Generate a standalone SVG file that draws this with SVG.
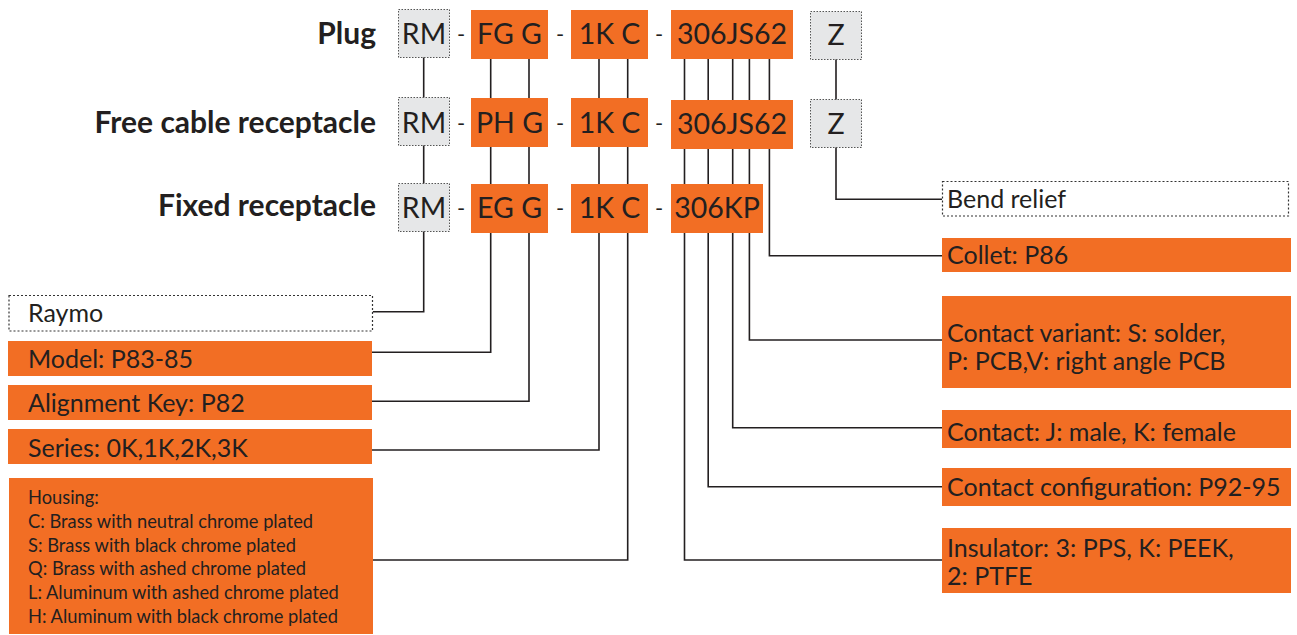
<svg xmlns="http://www.w3.org/2000/svg" width="1297" height="635" viewBox="0 0 1297 635">
<defs>
<style>
.bg{fill:#ffffff}
.code{fill:#f26e24}
.grey{fill:#e6e7e8;stroke:#555;stroke-width:1;stroke-dasharray:1.5 1.5}
.note{fill:#ffffff;stroke:#333;stroke-width:1.2;stroke-dasharray:2 2}
.t{font-family:Lato,"Open Sans",sans-serif;fill:#231f20}
.ct{font-size:28.5px;text-anchor:middle}
.rl{font-size:30px;font-weight:bold;text-anchor:end}
.lt{font-size:25px}
.sm{font-size:18.3px}
.dash{font-size:22px;text-anchor:middle}
.ln{fill:none;stroke:#231f20;stroke-width:1.6}
</style>
</defs>
<rect class="bg" x="0" y="0" width="1297" height="635"/>

<g id="connectors">
<path class="ln" d="M423.7,33 V311.7 H372.7"/>
<path class="ln" d="M490.7,35 V352.3 H371.7"/>
<path class="ln" d="M529,35 V401.3 H371.7"/>
<path class="ln" d="M599,35 V450 H371.7"/>
<path class="ln" d="M627.7,35 V560 H372.7"/>
<path class="ln" d="M684.5,35 V560 H942"/>
<path class="ln" d="M708.2,35 V486.7 H942"/>
<path class="ln" d="M732.7,35 V427.7 H942"/>
<path class="ln" d="M749.4,35 V340 H942"/>
<path class="ln" d="M769.4,35 V255.7 H942"/>
<path class="ln" d="M836,35 V199.3 H942"/>
</g>

<g id="row-labels">
<text class="t rl" x="376" y="44">Plug</text>
<text class="t rl" x="376" y="133">Free cable receptacle</text>
<text class="t rl" x="376" y="216">Fixed receptacle</text>
</g>

<g id="row-plug">
<g id="plug-rm"><rect class="grey" x="398.5" y="9.5" width="51" height="48"/><text class="t ct" x="424" y="44">RM</text></g>
<text class="t dash" x="461" y="42">-</text>
<g id="plug-fgg"><rect class="code" x="471" y="10" width="77" height="49"/><text class="t ct" x="509.5" y="44">FG G</text></g>
<text class="t dash" x="560" y="42">-</text>
<g id="plug-1kc"><rect class="code" x="571" y="10" width="77" height="49"/><text class="t ct" x="609.5" y="44">1K C</text></g>
<text class="t dash" x="659" y="42">-</text>
<g id="plug-306"><rect class="code" x="671" y="10" width="122" height="49"/><text class="t ct" x="732" y="44">306JS62</text></g>
<g id="plug-z"><rect class="grey" x="810.5" y="11.5" width="51" height="48"/><text class="t ct" x="836" y="45">Z</text></g>
</g>

<g id="row-free">
<g id="free-rm"><rect class="grey" x="398.5" y="97.5" width="51" height="48"/><text class="t ct" x="424" y="133">RM</text></g>
<text class="t dash" x="461" y="131">-</text>
<g id="free-phg"><rect class="code" x="471" y="98" width="77" height="49"/><text class="t ct" x="509.5" y="133">PH G</text></g>
<text class="t dash" x="560" y="131">-</text>
<g id="free-1kc"><rect class="code" x="571" y="98" width="77" height="49"/><text class="t ct" x="609.5" y="133">1K C</text></g>
<text class="t dash" x="659" y="131">-</text>
<g id="free-306"><rect class="code" x="671" y="100" width="122" height="49"/><text class="t ct" x="732" y="134">306JS62</text></g>
<g id="free-z"><rect class="grey" x="810.5" y="99.5" width="51" height="48"/><text class="t ct" x="836" y="134">Z</text></g>
</g>

<g id="row-fixed">
<g id="fixed-rm"><rect class="grey" x="398.5" y="183.5" width="51" height="48"/><text class="t ct" x="424" y="218">RM</text></g>
<text class="t dash" x="461" y="216">-</text>
<g id="fixed-egg"><rect class="code" x="471" y="184" width="77" height="49"/><text class="t ct" x="509.5" y="218">EG G</text></g>
<text class="t dash" x="560" y="216">-</text>
<g id="fixed-1kc"><rect class="code" x="571" y="184" width="77" height="49"/><text class="t ct" x="609.5" y="218">1K C</text></g>
<text class="t dash" x="659" y="216">-</text>
<g id="fixed-306"><rect class="code" x="671" y="184" width="92" height="49"/><text class="t ct" x="717" y="218">306KP</text></g>
</g>

<g id="left-notes">
<g id="raymo"><rect class="note" x="9" y="295.5" width="363.5" height="35.5"/><text class="t lt" x="28" y="322">Raymo</text></g>
<g id="model"><rect class="code" x="8" y="341" width="364" height="35"/><text class="t lt" x="28" y="368">Model: P83-85</text></g>
<g id="alignment"><rect class="code" x="8" y="385" width="364" height="35"/><text class="t lt" x="28" y="412">Alignment Key: P82</text></g>
<g id="series"><rect class="code" x="8" y="429" width="364" height="35"/><text class="t lt" x="28" y="457">Series: 0K,1K,2K,3K</text></g>
<g id="housing"><rect class="code" x="9" y="478" width="364" height="156"/>
<text class="t sm" x="28" y="504">Housing:</text>
<text class="t sm" x="28" y="528">C: Brass with neutral chrome plated</text>
<text class="t sm" x="28" y="552">S: Brass with black chrome plated</text>
<text class="t sm" x="28" y="575">Q: Brass with ashed chrome plated</text>
<text class="t sm" x="28" y="599">L: Aluminum with ashed chrome plated</text>
<text class="t sm" x="28" y="623">H: Aluminum with black chrome plated</text>
</g>
</g>

<g id="right-notes">
<g id="bend"><rect class="note" x="942.5" y="181.5" width="346" height="34.5"/><text class="t lt" x="947" y="208">Bend relief</text></g>
<g id="collet"><rect class="code" x="942" y="238" width="349" height="34"/><text class="t lt" x="947" y="264">Collet: P86</text></g>
<g id="variant"><rect class="code" x="942" y="296" width="349" height="92"/><text class="t lt" x="947" y="342">Contact variant: S: solder,</text><text class="t lt" x="947" y="370">P: PCB,V: right angle PCB</text></g>
<g id="contact"><rect class="code" x="942" y="410" width="349" height="38"/><text class="t lt" x="947" y="441">Contact: J: male, K: female</text></g>
<g id="config"><rect class="code" x="942" y="468" width="349" height="38"/><text class="t lt" x="947" y="496">Contact configuration: P92-95</text></g>
<g id="insulator"><rect class="code" x="942" y="528" width="349" height="65"/><text class="t lt" x="947" y="557">Insulator: 3: PPS, K: PEEK,</text><text class="t lt" x="947" y="585">2: PTFE</text></g>
</g>
</svg>
